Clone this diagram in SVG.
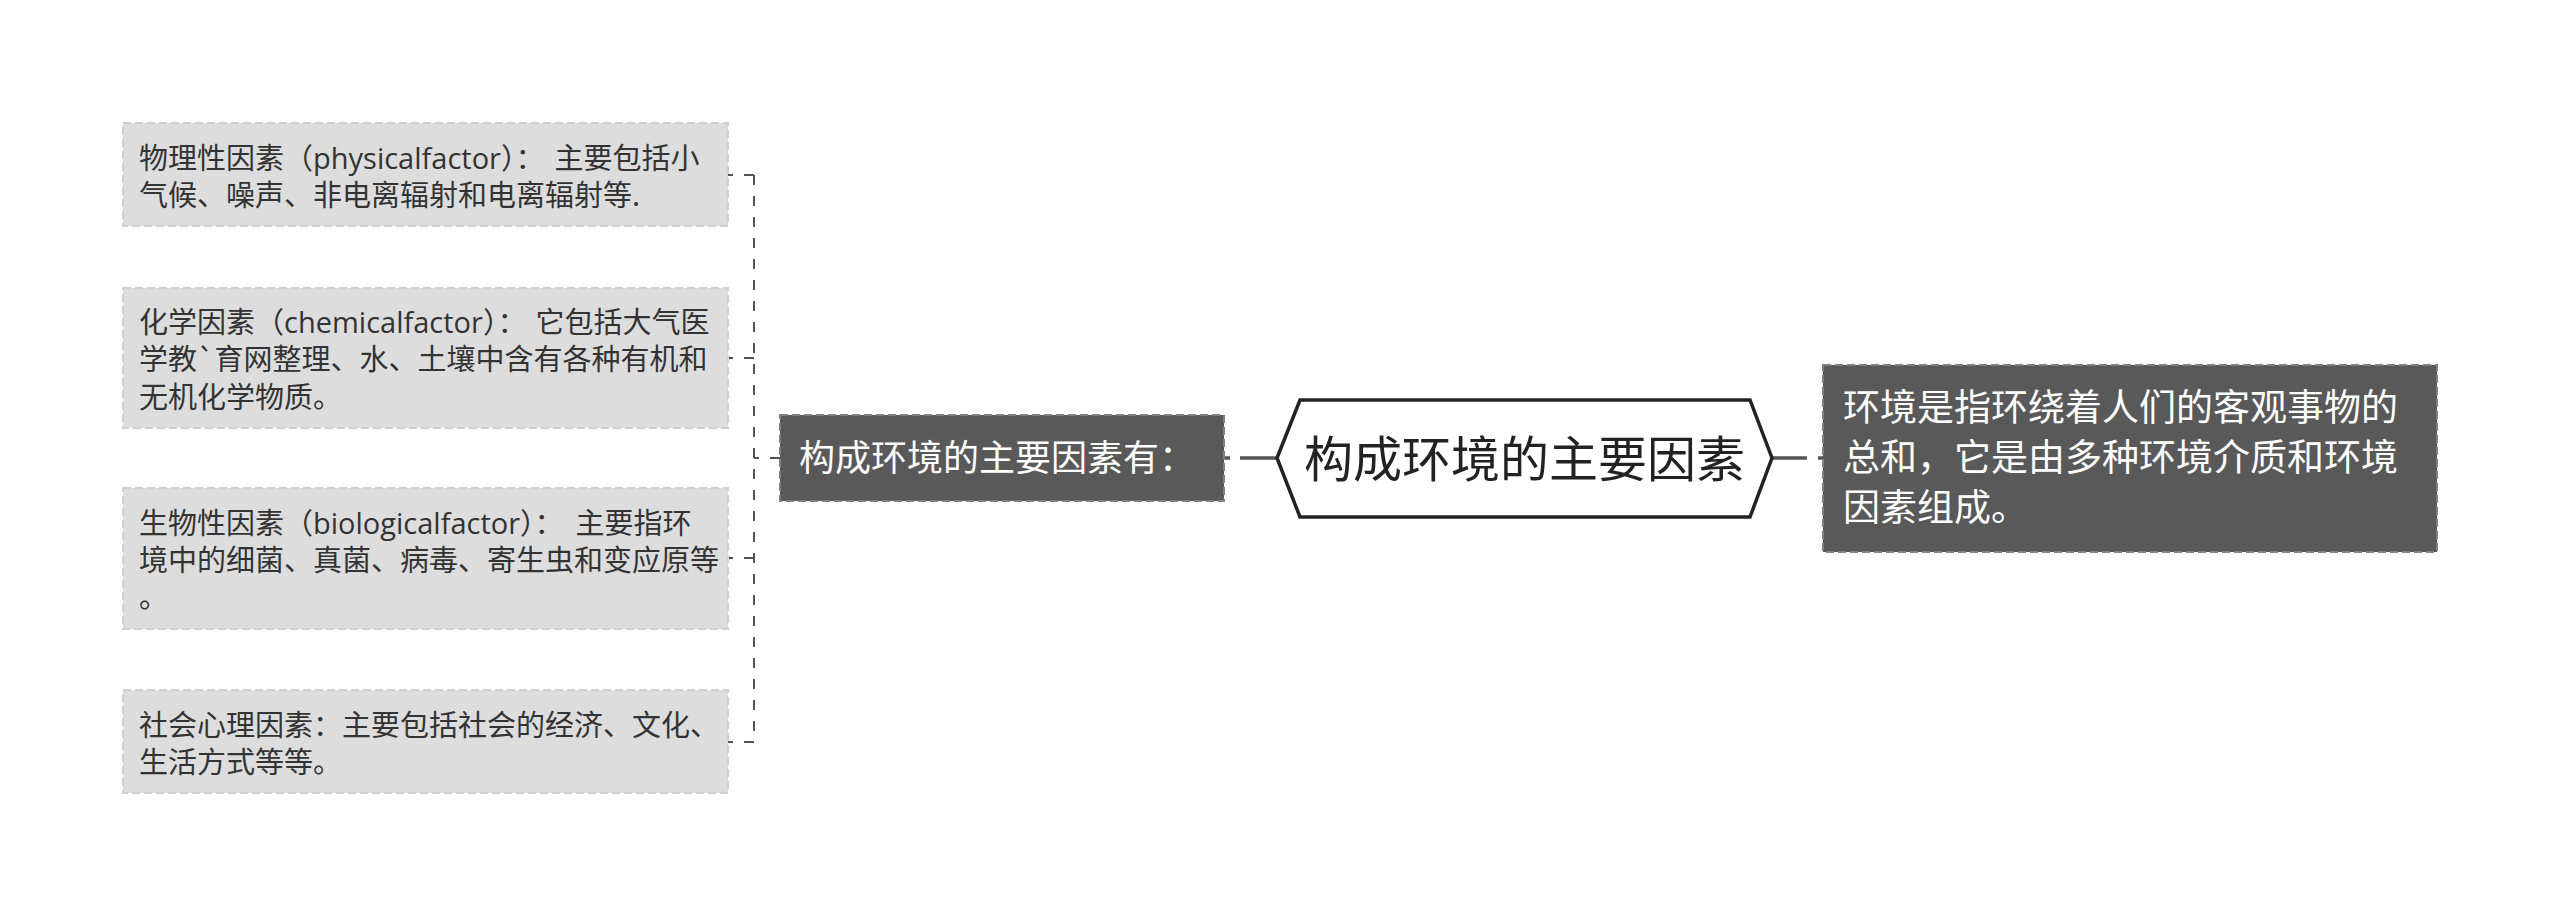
<svg xmlns="http://www.w3.org/2000/svg" width="2560" height="917" viewBox="0 0 2560 917">
<style>
.leaf rect{fill:#dddddd;stroke:#cfcfcf;stroke-width:2;stroke-dasharray:8 4}
.leaf text{font-family:"Noto Sans CJK SC","Noto Sans",sans-serif;font-size:29px;fill:#333333}
.lat{font-family:"Open Sans","Noto Sans",sans-serif}
.dark rect{fill:#595959;stroke:#808080;stroke-width:2;stroke-dasharray:8 4}
.dark text{font-family:"Noto Sans CJK SC","Noto Sans",sans-serif;fill:#ffffff}
.conn{fill:none;stroke:#555555;stroke-width:2;stroke-dasharray:10 11}
.main{fill:none;stroke:#555555;stroke-width:3.5}
</style>
<rect width="2560" height="917" fill="#ffffff"/>
<g id="connectors">
<path class="conn" d="M780 458 H754"/>
<path class="conn" d="M754 175 V742"/>
<path class="conn" d="M754 175 H728"/>
<path class="conn" d="M754 358 H728"/>
<path class="conn" d="M754 558 H728"/>
<path class="conn" d="M754 742 H728"/>
<path class="main" d="M1277 458 H1224" stroke-dasharray="37 10"/>
<path class="main" d="M1772 458 H1823" stroke-dasharray="35 11"/>
</g>
<g id="leaf1" class="leaf">
<rect x="123" y="123" width="605" height="103"/>
<text x="139" y="169">物理性因素（<tspan class="lat">physicalfactor</tspan>）：<tspan dx="10">主要包括小</tspan></text>
<text x="139" y="206">气候、噪声、非电离辐射和电离辐射等.</text>
</g>
<g id="leaf2" class="leaf">
<rect x="123" y="288" width="605" height="140"/>
<text x="139" y="333">化学因素（<tspan class="lat">chemicalfactor</tspan>）：<tspan dx="9">它包括大气医</tspan></text>
<text x="139" y="370">学教`育网整理、水、土壤中含有各种有机和</text>
<text x="139" y="408">无机化学物质。</text>
</g>
<g id="leaf3" class="leaf">
<rect x="123" y="488" width="605" height="141"/>
<text x="139" y="534">生物性因素（<tspan class="lat">biologicalfactor</tspan>）：<tspan dx="12">主要指环</tspan></text>
<text x="139" y="571">境中的细菌、真菌、病毒、寄生虫和变应原等</text>
<text x="139" y="608">。</text>
</g>
<g id="leaf4" class="leaf">
<rect x="123" y="690" width="605" height="103"/>
<text x="139" y="736">社会心理因素：主要包括社会的经济、文化、</text>
<text x="139" y="773">生活方式等等。</text>
</g>
<g id="mid" class="dark">
<rect x="780" y="415" width="444" height="86"/>
<text x="799" y="471" font-size="36">构成环境的主要因素有：</text>
</g>
<g id="center">
<polygon points="1277,458 1300,400 1750,400 1772,458 1750,517 1300,517" fill="#ffffff" stroke="#222222" stroke-width="3.5" stroke-linejoin="miter"/>
<text x="1524.5" y="477" text-anchor="middle" font-family="'Noto Sans CJK SC','Noto Sans',sans-serif" font-size="49" fill="#222222">构成环境的主要因素</text>
</g>
<g id="right" class="dark">
<rect x="1823" y="365" width="614" height="187"/>
<text x="1843" y="421" font-size="37">环境是指环绕着人们的客观事物的</text>
<text x="1843" y="471" font-size="37">总和，它是由多种环境介质和环境</text>
<text x="1843" y="521" font-size="37">因素组成。</text>
</g>
</svg>
